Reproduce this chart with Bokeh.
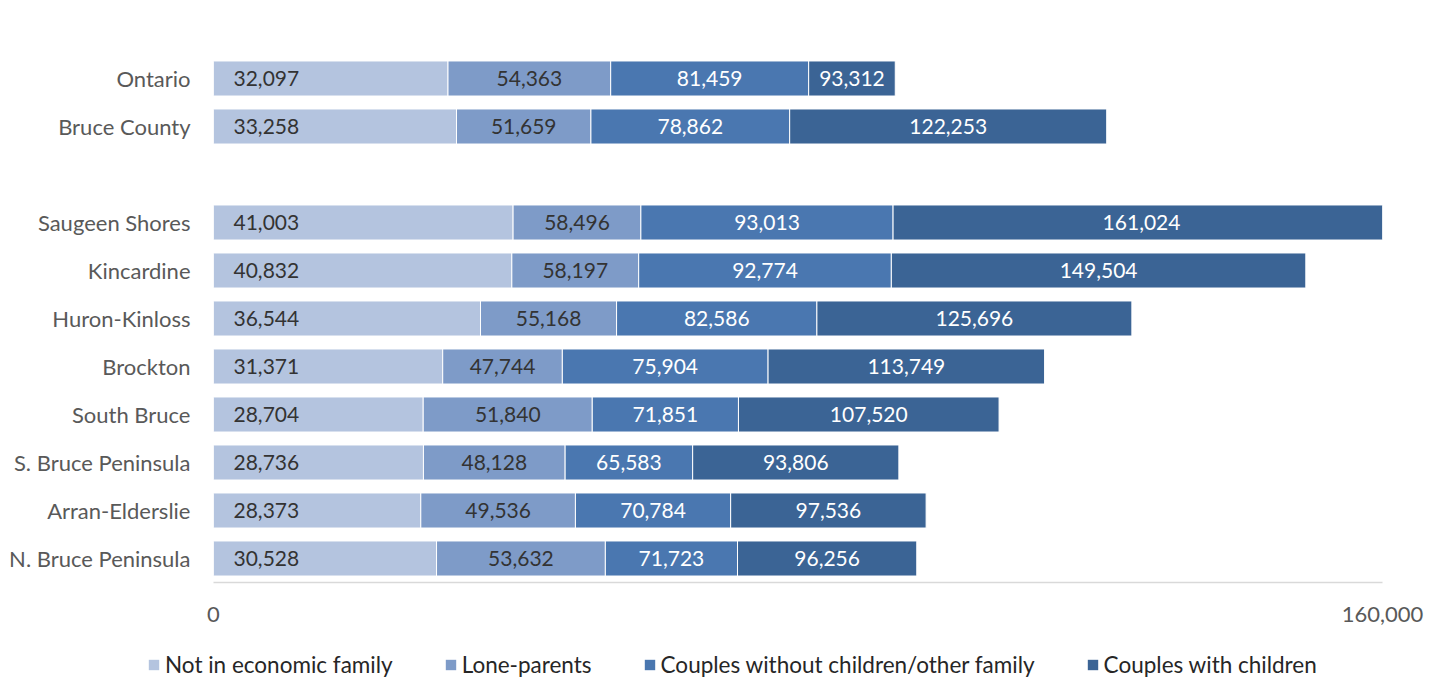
from bokeh.plotting import figure
from bokeh.layouts import column
from bokeh.models import ColumnDataSource, FixedTicker, NumeralTickFormatter, Range1d, Legend, LegendItem
from bokeh.core.properties import value
from bokeh.embed import file_html
from bokeh.resources import INLINE

categories = ["Ontario", "Bruce County", "Saugeen Shores", "Kincardine", "Huron-Kinloss",
              "Brockton", "South Bruce", "S. Bruce Peninsula", "Arran-Elderslie", "N. Bruce Peninsula"]
ypos = [10, 9, 7, 6, 5, 4, 3, 2, 1, 0]

not_in_family = [32097, 33258, 41003, 40832, 36544, 31371, 28704, 28736, 28373, 30528]
lone_parents = [54363, 51659, 58496, 58197, 55168, 47744, 51840, 48128, 49536, 53632]
couples_without = [81459, 78862, 93013, 92774, 82586, 75904, 71851, 65583, 70784, 71723]
couples_with = [93312, 122253, 161024, 149504, 125696, 113749, 107520, 93806, 97536, 96256]

series_names = ["Not in economic family", "Lone-parents",
                "Couples without children/other family", "Couples with children"]
series_vals = [not_in_family, lone_parents, couples_without, couples_with]
colors = ["#B4C4DF", "#7E9BC8", "#4A77B0", "#3B6495"]
text_colors = ["#333333", "#333333", "#FFFFFF", "#FFFFFF"]

FONT = "Lato"

p = figure(width=1435, height=640, output_backend="svg", toolbar_location=None,
           x_range=Range1d(0, 160000), y_range=Range1d(-0.5, 10.5),
           min_border_left=213, min_border_right=53, min_border_top=54, min_border_bottom=58)
p.outline_line_color = None
p.xgrid.visible = False
p.ygrid.visible = False
p.background_fill_color = "white"

# legend figure (its bars lie outside its own visible range; only the legend shows)
lf = figure(width=1435, height=40, output_backend="svg", toolbar_location=None,
            x_range=Range1d(0, 1), y_range=Range1d(100, 101),
            min_border_left=0, min_border_right=0, min_border_top=0, min_border_bottom=0)
lf.axis.visible = False
lf.grid.visible = False
lf.outline_line_color = None
if hasattr(lf, "frame_align"):
    lf.frame_align = False
    p.frame_align = False

items = []
prev = [0] * len(categories)
for i, (name, vals) in enumerate(zip(series_names, series_vals)):
    src = ColumnDataSource(dict(y=ypos, left=prev, right=vals,
                                mid=[(a + b) / 2 for a, b in zip(prev, vals)],
                                lab=[f"{v:,}" for v in vals]))
    p.hbar(y="y", left="left", right="right", height=0.73, source=src,
           fill_color=colors[i], line_color="white", line_width=1)
    lr = lf.hbar(y="y", left="left", right="right", height=0.73, source=src,
                 fill_color=colors[i], line_color=None)
    items.append(LegendItem(label=name, renderers=[lr]))
    if i == 0:
        p.text(x="left", y="y", text="lab", source=src, x_offset=20,
               text_align="left", text_baseline="middle",
               text_font=value(FONT), text_font_size=value("21px"), text_color=text_colors[i])
    else:
        p.text(x="mid", y="y", text="lab", source=src,
               text_align="center", text_baseline="middle",
               text_font=value(FONT), text_font_size=value("21px"), text_color=text_colors[i])
    prev = vals

# axes
p.xaxis.ticker = FixedTicker(ticks=[0, 160000])
p.xaxis.formatter = NumeralTickFormatter(format="0,0")
p.xaxis.axis_line_color = "#D9D9D9"
p.xaxis.axis_line_width = 1.5
p.xaxis.major_tick_line_color = None
p.xaxis.minor_tick_line_color = None
p.xaxis.major_label_standoff = 18
p.xaxis.major_label_text_font = FONT
p.xaxis.major_label_text_font_size = "22px"
p.xaxis.major_label_text_color = "#595959"

p.yaxis.ticker = FixedTicker(ticks=ypos)
p.yaxis.major_label_overrides = {y: c for y, c in zip(ypos, categories)}
p.yaxis.axis_line_color = None
p.yaxis.major_tick_line_color = None
p.yaxis.minor_tick_line_color = None
p.yaxis.major_label_standoff = 17
p.yaxis.major_label_text_font = FONT
p.yaxis.major_label_text_font_size = "22px"
p.yaxis.major_label_text_color = "#595959"

legend = Legend(items=items, orientation="horizontal", location=(147, 2),
                glyph_width=13, glyph_height=13, label_standoff=5, spacing=51,
                padding=0, margin=0, border_line_color=None, background_fill_alpha=0,
                label_text_font=FONT, label_text_font_size="22.5px", label_text_color="#262626")
lf.add_layout(legend, "center")

layout = column(p, lf, spacing=0)
open("out.html", "w").write(file_html(layout, INLINE))
